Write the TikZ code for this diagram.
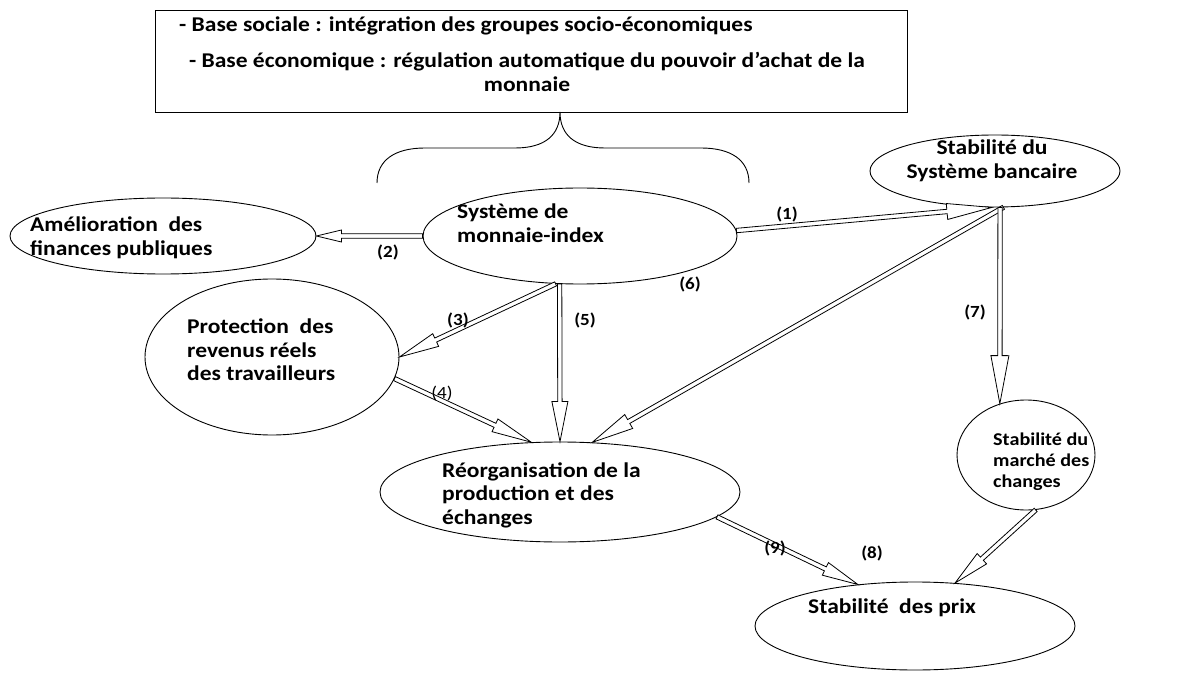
\documentclass[tikz,border=0pt]{standalone}
\usepackage{fontspec}
\setmainfont{Carlito}[FakeStretch=1.12]
\usetikzlibrary{shapes.geometric,calc}
\tikzset{
  ell/.style={draw, ellipse, inner sep=0pt, line width=0.9pt},
  txt/.style={font=\fontsize{21}{23.5}\selectfont\bfseries, align=left, inner sep=0pt, anchor=west},
  stxt/.style={font=\fontsize{18}{21}\selectfont\bfseries, align=left, inner sep=0pt, anchor=west},
  num/.style={font=\fontsize{17}{18}\selectfont\bfseries, inner sep=0pt},
  numl/.style={font=\fontsize{17}{18}\selectfont, inner sep=0pt},
  barrow/.style 2 args={line width=0.8pt, fill=white, to path={
    let \p1=(\tikztostart), \p2=(\tikztotarget),
        \n1={atan2(\y2-\y1,\x2-\x1)}, \n2={veclen(\x2-\x1,\y2-\y1)} in
    ($(\p1)+(\n1+90:2.2pt)$) -- ($(\p1)+(\n1:\n2-#1pt)+(\n1+90:2.2pt)$)
    -- ($(\p1)+(\n1:\n2-#1pt)+(\n1+90:#2pt)$) -- (\p2)
    -- ($(\p1)+(\n1:\n2-#1pt)+(\n1-90:#2pt)$)
    -- ($(\p1)+(\n1:\n2-#1pt)+(\n1-90:2.2pt)$)
    -- ($(\p1)+(\n1-90:2.2pt)$) -- cycle}},
}
\begin{document}
\begin{tikzpicture}[x=1pt,y=-1pt]
\useasboundingbox (0,0) rectangle (1178,676);

% top box
\node[draw, line width=0.9pt, inner sep=0pt, minimum width=752pt, minimum height=102pt] (box) at (531,61) {};
\node[txt] (l1) at (179,26) {- Base sociale : intégration\ des groupes socio-économiques};
\node[txt, align=center, anchor=center] (l2) at (527,72) {- Base économique : régulation automatique du pouvoir d’achat de la\\monnaie};

% brace
\coordinate (btip) at (560,112);
\coordinate (bl) at (377,183);
\coordinate (br) at (749,183);
\draw[line width=0.9pt] (bl) .. controls (377,160) and (395,148) .. (425,148) -- (515,148)
  .. controls (545,148) and (560,135) .. (btip)
  .. controls (560,135) and (575,148) .. (605,148) -- (701,148)
  .. controls (731,148) and (749,160) .. (br);

% ellipses
\node[ell, minimum width=306pt, minimum height=76pt] (amel) at (163,236) {};
\node[ell, minimum width=314pt, minimum height=96pt] (sys) at (580,236) {};
\node[ell, minimum width=250pt, minimum height=72pt] (bank) at (995,171) {};
\node[ell, minimum width=254pt, minimum height=156pt] (prot) at (272,357) {};
\node[ell, minimum width=360pt, minimum height=100pt] (reorg) at (560,492) {};
\node[ell, minimum width=138pt, minimum height=110pt] (marche) at (1026,455) {};
\node[ell, minimum width=320pt, minimum height=88pt] (prix) at (915,626) {};

% texts
\node[txt] (tamel) at (30,238) {Amélioration\ \ des\\finances\ publiques};
\node[txt] (tsys) at (457,223) {Système de\\monnaie-index};
\node[txt, align=center, anchor=center] (tbank) at (992,161) {Stabilité du\\Système bancaire};
\node[txt] (tprot) at (187,350) {Protection\ \ des\\revenus réels\\des travailleurs};
\node[txt] (treorg) at (442,495) {Réorganisation de la\\production et des\\échanges};
\node[stxt] (tmarche) at (993,462) {Stabilité du\\marché des\\changes};
\node[txt] (tprix) at (808,608) {Stabilité\ \ des prix};

% arrows
\draw[barrow={45}{8}] (sys.2) to (bank.-95);
\draw[barrow={25}{6}] (sys.west) to (amel.east);
\draw[barrow={40}{7}] (sys.-117) to (prot.east);
\draw[barrow={40}{7}] (prot.-10) to (reorg.120);
\draw[barrow={40}{8}] (sys.-113) to (reorg.north);
\draw[barrow={42}{8}] (bank.-77) to (reorg.57);
\draw[barrow={48}{9}] (bank.-82) to (marche.117);
\draw[barrow={36}{7}] (marche.-80) to (prix.47);
\draw[barrow={36}{7}] (reorg.-9) to (prix.144);

% labels
\node[num] (n1) at (787,214) {(1)};
\node[num] (n2) at (388,252) {(2)};
\node[num] (n3) at (458,320) {(3)};
\node[numl] (n4) at (442,393) {(4)};
\node[num] (n5) at (585,320) {(5)};
\node[num] (n6) at (690,284) {(6)};
\node[num] (n7) at (975,312) {(7)};
\node[num] (n8) at (872,553) {(8)};
\node[num] (n9) at (775,548) {(9)};
\end{tikzpicture}
\end{document}
